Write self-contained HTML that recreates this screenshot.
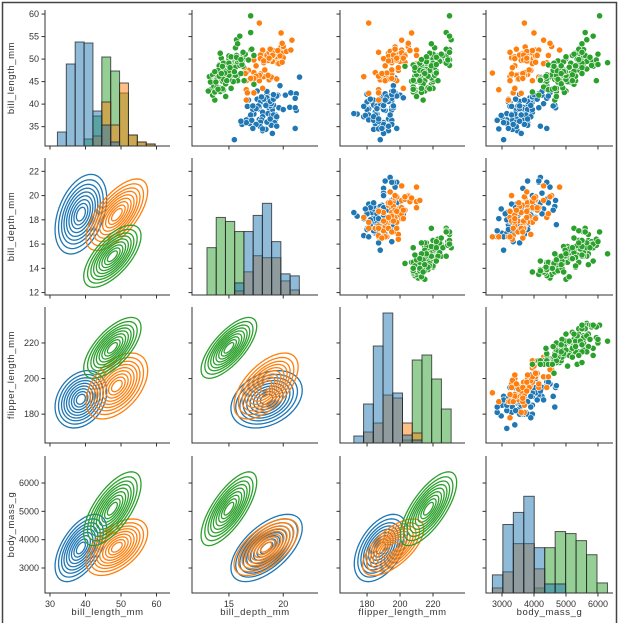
<!DOCTYPE html>
<html><head><meta charset="utf-8"><style>
html,body{margin:0;padding:0;background:#fff;}
svg{display:block;font-family:"Liberation Sans","Noto Sans CJK SC",sans-serif;}
</style></head>
<body>
<svg id="chart" width="619" height="623" viewBox="0 0 619 623" xmlns="http://www.w3.org/2000/svg">
<rect x="0" y="0" width="619" height="623" fill="#fff"/>
<path d="M2.5 623 V2.5 H616.5 V623" fill="none" stroke="#444" stroke-width="1.5"/>
</svg>
<script>
const varNames = ["bill_length_mm","bill_depth_mm","flipper_length_mm","body_mass_g"];
const speciesColors = ["#1f77b4","#ff7f0e","#2ca02c"];
const xDomains = [[28.6,63.8],[11.6,23.2],[163.6,239.4],[2500,6470]];
const yDomains = [[60.9,30.7],[23.1,11.8],[240.2,163.8],[6954,2117]];
const xTicks = [[30,40,50,60],[15,20],[180,200,220],[3000,4000,5000,6000]];
const yTicks = [[35,40,45,50,55,60],[12,14,16,18,20,22],[180,200,220],[3000,4000,5000,6000]];
const colPx = [[45,170],[192,318],[340,465],[486,613]];
const rowPx = [[10,146],[158,295],[307,443],[456,593]];

const adelie = [[39.1,18.7,181,3750],[39.5,17.4,186,3800],[40.3,18.0,195,3250],[36.7,19.3,193,3450],[39.3,20.6,190,3650],[38.9,17.8,181,3625],[39.2,19.6,195,4675],[34.1,18.1,193,3475],[42.0,20.2,190,4250],[37.8,17.1,186,3300],[37.8,17.3,180,3700],[41.1,17.6,182,3200],[38.6,21.2,191,3800],[34.6,21.1,198,4400],[36.6,17.8,185,3700],[38.7,19.0,195,3450],[42.5,20.7,197,4500],[34.4,18.4,184,3325],[46.0,21.5,194,4200],[37.8,18.3,174,3400],[37.7,18.7,180,3600],[35.9,19.2,189,3800],[38.2,18.1,185,3950],[38.8,17.2,180,3800],[35.3,18.9,187,3800],[40.6,18.6,183,3550],[40.5,17.9,187,3200],[37.9,18.6,172,3150],[40.5,18.9,180,3950],[39.5,16.7,178,3250],[37.2,18.1,178,3900],[39.5,17.8,188,3300],[40.9,18.9,184,3900],[36.4,17.0,195,3325],[39.2,21.1,196,4150],[38.8,20.0,190,3950],[42.2,18.5,180,3550],[37.6,19.3,181,3300],[39.8,19.1,184,4650],[36.5,18.0,182,3150],[40.8,18.4,195,3900],[36.0,18.5,186,3100],[44.1,19.7,196,4400],[37.0,16.9,185,3000],[39.6,18.8,190,4600],[41.1,19.0,182,3425],[37.5,18.9,179,2975],[36.0,17.9,190,3450],[42.3,21.2,191,4150],[39.6,17.7,186,3500],[40.1,18.9,188,4300],[35.0,17.9,190,3450],[42.0,19.5,200,4050],[34.5,18.1,187,2900],[41.4,18.5,202,3875],[39.0,17.5,186,3550],[40.6,18.8,193,3800],[36.5,16.6,181,2850],[37.6,19.1,194,3750],[35.7,16.9,185,3150],[41.3,21.1,195,4400],[37.6,17.0,185,3600],[41.1,18.2,192,4050],[36.4,17.1,184,2850],[41.6,18.0,192,3950],[35.5,16.2,195,3350],[41.1,19.1,188,4100],[35.9,16.6,190,3050],[41.8,19.4,198,4450],[33.5,19.0,190,3600],[39.7,18.4,190,3900],[39.6,17.2,196,3550],[45.8,18.9,197,4150],[35.5,17.5,190,3700],[42.8,18.5,195,4250],[40.9,16.8,191,3700],[37.2,19.4,184,3900],[36.2,16.1,187,3550],[42.1,19.1,195,4000],[34.6,17.2,189,3200],[42.9,17.6,196,4700],[36.7,18.8,187,3800],[35.1,19.4,193,4200],[32.1,15.5,188,3050]];
const chinstrap = [[46.5,17.9,192,3500],[50.0,19.5,196,3900],[51.3,19.2,193,3650],[45.4,18.7,188,3525],[52.7,19.8,197,3725],[45.2,17.8,198,3950],[46.1,18.2,178,3250],[51.3,18.2,197,3750],[46.0,18.9,195,4150],[51.3,19.9,198,3700],[46.6,17.8,193,3800],[51.7,20.3,194,3775],[47.0,17.3,185,3700],[52.0,18.1,201,4050],[45.9,17.1,190,3575],[50.5,19.6,201,4050],[50.3,20.0,197,3300],[58.0,17.8,181,3700],[46.4,18.6,190,3450],[49.2,18.2,195,4400],[42.4,17.3,181,3600],[48.5,17.5,191,3400],[43.2,16.6,187,2900],[50.6,19.4,193,3800],[46.7,17.9,195,3300],[52.0,19.0,197,4150],[50.5,18.4,200,3400],[49.5,19.0,200,3800],[46.4,17.8,191,3700],[52.8,20.0,205,4550],[40.9,16.6,187,3200],[54.2,20.8,201,4300],[42.5,16.7,187,3350],[51.0,18.8,203,4100],[49.7,18.6,195,3600],[47.5,16.8,199,3900],[47.6,18.3,195,3850],[52.0,20.7,210,4800],[46.9,16.6,192,2700],[53.5,19.9,205,4500],[49.0,19.5,210,3950],[46.2,17.5,187,3650],[50.9,19.1,196,3550],[45.5,17.0,196,3500],[50.9,17.9,196,3675],[50.8,18.5,201,4450],[50.1,17.9,190,3400],[49.0,19.6,212,4300],[51.5,18.7,187,3250],[49.8,17.3,198,3675],[48.1,16.4,199,3325],[51.4,19.0,201,3950],[45.7,17.3,193,3600],[50.7,19.7,203,4050],[42.5,17.3,187,3350],[52.2,18.8,197,3450],[45.2,16.6,191,3250],[49.3,19.9,203,4050],[50.2,18.8,202,3800],[45.6,19.4,194,3525],[51.9,19.5,206,3950],[46.8,16.5,189,3650],[45.7,17.0,195,3650],[55.8,19.8,207,4000],[43.5,18.1,202,3400],[49.6,18.2,193,3775],[50.8,19.0,210,4100],[50.2,18.7,198,3775]];
const gentoo = [[46.1,13.2,211,4500],[50.0,16.3,230,5700],[48.7,14.1,210,4450],[50.0,15.2,218,5700],[47.6,14.5,215,5400],[46.5,13.5,210,4550],[45.4,14.6,211,4800],[46.7,15.3,219,5200],[43.3,13.4,209,4400],[46.8,15.4,215,5150],[40.9,13.7,214,4650],[49.0,16.1,216,5550],[45.5,13.7,214,4650],[48.4,14.6,213,5850],[45.8,14.6,210,4200],[49.3,15.7,217,5850],[42.0,13.5,210,4150],[49.2,15.2,221,6300],[46.2,14.5,209,4800],[48.7,15.1,222,5350],[50.2,14.3,218,5700],[45.1,14.5,215,5000],[46.5,14.5,213,4400],[46.3,15.8,215,5050],[42.9,13.1,215,5000],[46.1,15.1,215,5100],[47.8,15.0,215,5650],[48.2,14.3,210,4600],[50.0,15.3,220,5550],[47.3,15.3,222,5250],[42.8,14.2,209,4700],[45.1,14.5,207,5050],[59.6,17.0,230,6050],[49.1,14.8,220,5150],[48.4,16.3,220,5400],[42.6,13.7,213,4950],[44.4,17.3,219,5250],[44.0,13.6,208,4350],[48.7,15.7,208,5350],[42.7,13.7,208,3950],[49.6,16.0,225,5700],[45.3,13.7,210,4300],[49.6,15.0,216,4750],[50.5,15.9,222,5550],[43.6,13.9,217,4900],[45.5,13.9,210,4200],[50.5,15.9,225,5400],[44.9,13.3,213,5100],[45.2,15.8,215,5300],[46.6,14.2,210,4850],[48.5,14.1,220,5300],[45.1,14.4,210,4400],[50.1,15.0,225,5000],[46.5,14.4,217,4900],[45.0,15.4,220,5050],[43.8,13.9,208,4300],[45.5,15.0,220,5000],[43.2,14.5,208,4450],[50.4,15.3,224,5550],[45.3,13.8,208,4200],[46.2,14.9,221,5300],[45.7,13.9,214,4400],[54.3,15.7,231,5650],[45.8,14.2,219,4700],[49.8,16.8,230,5700],[49.5,16.2,229,5800],[43.5,14.2,220,4700],[50.7,15.0,223,5550],[47.7,15.0,216,4750],[46.4,15.6,221,5000],[48.2,15.6,221,5100],[46.5,14.8,217,5200],[46.4,15.0,216,4700],[48.6,16.0,230,5800],[47.5,14.2,209,4600],[51.1,16.3,220,6000],[45.2,13.8,215,4750],[45.2,16.4,223,5950],[49.1,14.5,212,4625],[52.5,15.6,221,5450],[47.4,14.6,212,4725],[50.0,15.9,224,5350],[44.9,13.8,212,4750],[50.8,17.3,228,5600],[43.4,14.4,218,4600],[51.3,14.2,218,5300],[47.5,14.0,212,4875],[52.1,17.0,230,5550],[47.5,15.0,218,4950],[52.2,17.1,228,5400],[45.5,14.5,212,4750],[49.5,16.1,224,5650],[44.5,14.7,214,4850],[50.8,15.7,226,5200],[49.4,15.8,216,4925],[46.9,14.6,222,4875],[48.4,14.4,203,4625],[51.1,16.5,225,5250],[48.5,15.0,219,4850],[55.9,17.0,228,5600],[47.2,15.5,215,4975],[49.1,15.0,228,5500],[46.8,16.1,215,5500],[41.7,14.7,210,4700],[53.4,15.8,219,5500],[43.3,14.0,208,4575],[48.1,15.1,209,5500],[50.5,15.2,216,5000],[49.8,15.9,229,5950],[43.5,15.2,213,4650],[51.5,16.3,230,5500],[46.2,14.1,217,4375],[55.1,16.0,230,5850],[48.8,16.2,222,6000],[47.2,13.7,214,4925],[46.8,14.3,215,4850],[50.4,15.7,222,5750],[45.2,14.8,212,5200],[49.9,16.1,213,5400]];

const histBinStart = [32.1, 12.98, 172, 2700];
const histBinWidth = [2.5, 0.85, 5.9, 327];
const histAdelie = [[14,82,104,103,35,21,4,0,0,0,0],[0,0,0,12,63,79,91,53,21,19],[7,39,97,130,50,8,3,0,0,0],[18,68,80,96,45,9,9,0,0,0,0]];
const histChinstrap = [[0,0,0,0,10,44,21,63,11,4,2],[0,0,0,4,23,39,37,37,14,5],[0,11,20,48,45,20,10,0,0,0],[5,21,49,49,24,0,0,0,0,0,0]];
const histGentoo = [[0,0,0,7,30,89,75,53,11,4,2],[47,77,73,63,0,0,0,0,0,0],[0,0,0,0,0,3,83,88,64,34],[0,0,0,0,5,45,61,59,52,38,10]];
const histCountMax = 136;

const kdeLevels = [0.45,0.7,0.95,1.2,1.45,1.7,1.95,2.25,2.6];

const NS = "http://www.w3.org/2000/svg";
const svg = document.getElementById("chart");
function mk(tag, attrs, parent){ const e=document.createElementNS(NS,tag); for(const k in attrs) e.setAttribute(k,attrs[k]); (parent||svg).appendChild(e); return e; }
function xScale(c,v){ const d=xDomains[c], p=colPx[c]; return p[0]+(v-d[0])/(d[1]-d[0])*(p[1]-p[0]); }
function yScale(r,v){ const d=yDomains[r], p=rowPx[r]; return p[0]+(v-d[0])/(d[1]-d[0])*(p[1]-p[0]); }
function hScale(r,c){ const p=rowPx[r]; return p[1]-c/histCountMax*(p[1]-p[0]); }

const species = [adelie, chinstrap, gentoo];
const hists = [histAdelie, histChinstrap, histGentoo];
const histDrawOrder = [2,1,0];

function stats(data,i,j){
  const n=data.length; let mx=0,my=0;
  data.forEach(d=>{mx+=d[i];my+=d[j];}); mx/=n; my/=n;
  let sxx=0,syy=0,sxy=0;
  data.forEach(d=>{const a=d[i]-mx,b=d[j]-my; sxx+=a*a; syy+=b*b; sxy+=a*b;});
  return {mx,my,sxx:sxx/(n-1),syy:syy/(n-1),sxy:sxy/(n-1)};
}

for(let r=0;r<4;r++){
  for(let c=0;c<4;c++){
    const g = mk("g",{});
    
    
    if(r===c){
      histDrawOrder.forEach(s=>{
        hists[s][r].forEach((cnt,b)=>{
          if(cnt<=0) return;
          const x0=xScale(c,histBinStart[r]+b*histBinWidth[r]);
          const x1=xScale(c,histBinStart[r]+(b+1)*histBinWidth[r]);
          const y=hScale(r,cnt);
          const rect=mk("rect",{x:x0,y:y,width:x1-x0,height:rowPx[r][1]-y,fill:speciesColors[s],"fill-opacity":0.5,stroke:"#222","stroke-opacity":0.75,"stroke-width":1},g);
          
          
        });
      });
    } else if(r<c){
      species.forEach((data,s)=>{
        data.forEach(d=>{
          const pt=mk("circle",{cx:xScale(c,d[c]),cy:yScale(r,d[r]),r:3.1,fill:speciesColors[s],stroke:"#fff","stroke-width":0.6},g);
          
          
        });
      });
    } else {
      species.forEach((data,s)=>{
        const st=stats(data,c,r);
        const tr=(st.sxx+st.syy)/2, det=st.sxx*st.syy-st.sxy*st.sxy;
        const disc=Math.sqrt(Math.max(tr*tr-det,0));
        const l1=tr+disc, l2=Math.max(tr-disc,1e-9);
        let vx, vy;
        if(Math.abs(st.sxy)>1e-12){ vx=l1-st.syy; vy=st.sxy; } else { vx=st.sxx>=st.syy?1:0; vy=st.sxx>=st.syy?0:1; }
        const vn=Math.hypot(vx,vy); vx/=vn; vy/=vn;
        kdeLevels.forEach(k=>{
          let dstr="";
          for(let t=0;t<=48;t++){
            const a=t/48*2*Math.PI;
            const u=Math.cos(a)*Math.sqrt(l1)*k, w=Math.sin(a)*Math.sqrt(l2)*k;
            const X=st.mx+u*vx-w*vy, Y=st.my+u*vy+w*vx;
            dstr+=(t?"L":"M")+xScale(c,X).toFixed(2)+" "+yScale(r,Y).toFixed(2);
          }
          const p=mk("path",{d:dstr+"Z",fill:"none",stroke:speciesColors[s],"stroke-width":1.3},g);
          
          
        });
      });
    }
    const sp=mk("path",{d:`M${colPx[c][0]} ${rowPx[r][0]} V${rowPx[r][1]} H${colPx[c][1]}`,fill:"none",stroke:"#333","stroke-width":1},g);
    
    
    yTicks[r].forEach(v=>{
      const y=yScale(r,v);
      const t=mk("line",{x1:colPx[c][0]-3.5,x2:colPx[c][0],y1:y,y2:y,stroke:"#333","stroke-width":1},g);
      
      
      if(c===0){
        const tl=mk("text",{x:colPx[c][0]-6,y:y+3,"text-anchor":"end","font-size":9,fill:"#333"},g);
        tl.textContent=v;
        
        
      }
    });
    xTicks[c].forEach(v=>{
      const x=xScale(c,v);
      const t=mk("line",{x1:x,x2:x,y1:rowPx[r][1],y2:rowPx[r][1]+3.5,stroke:"#333","stroke-width":1},g);
      
      
      if(r===3){
        const tl=mk("text",{x:x,y:rowPx[r][1]+14,"text-anchor":"middle","font-size":9,fill:"#333"},g);
        tl.textContent=v;
        
        
      }
    });
  }
}
for(let i=0;i<4;i++){
  const xt=mk("text",{x:(colPx[i][0]+colPx[i][1])/2,y:615,"text-anchor":"middle","font-size":9.5,fill:"#333","letter-spacing":"0.6"});
  xt.textContent=varNames[i];
  
  
  const cy=(rowPx[i][0]+rowPx[i][1])/2;
  const yt=mk("text",{x:14,y:cy,"text-anchor":"middle","font-size":9.5,fill:"#333","letter-spacing":"0.6",transform:`rotate(-90 14 ${cy})`});
  yt.textContent=varNames[i];
  
  
}
</script>
</body></html>
